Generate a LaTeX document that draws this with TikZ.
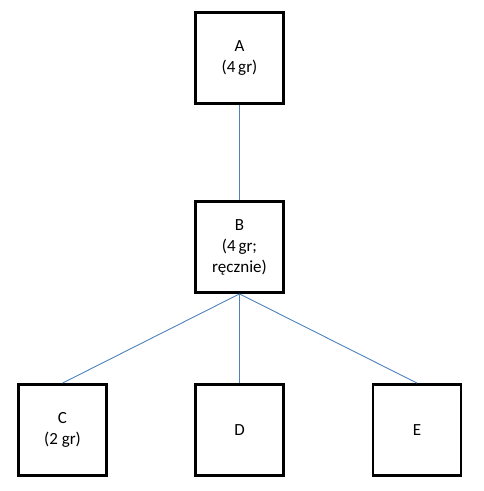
\documentclass[tikz,border=0pt]{standalone}
\usepackage{fontspec}
\setmainfont{Carlito}
\definecolor{linkblue}{HTML}{4F81BD}
\begin{document}
\begin{tikzpicture}[x=1pt,y=-1pt,
  box/.style={draw=black, line width=2.8pt, minimum width=88pt, minimum height=91pt,
    align=center, inner sep=0pt, font=\fontsize{17}{21}\selectfont},
  link/.style={draw=linkblue, line width=0.9pt}]
\useasboundingbox (0,0) rectangle (483,491);
\node[box] (A) at (239.5,58) {A\\(4\,gr)};
\node[box] (B) at (239.5,247) {B\\(4\,gr;\\ręcznie)};
\node[box] (C) at (62.5,430) {C\\(2 gr)};
\node[box] (D) at (239.5,430) {D};
\node[box] (E) at (417,430) {E};
\draw[link] (A.south) -- (B.north);
\draw[link] (B.south) -- (C.north);
\draw[link] (B.south) -- (D.north);
\draw[link] (B.south) -- (E.north);
\end{tikzpicture}
\end{document}
